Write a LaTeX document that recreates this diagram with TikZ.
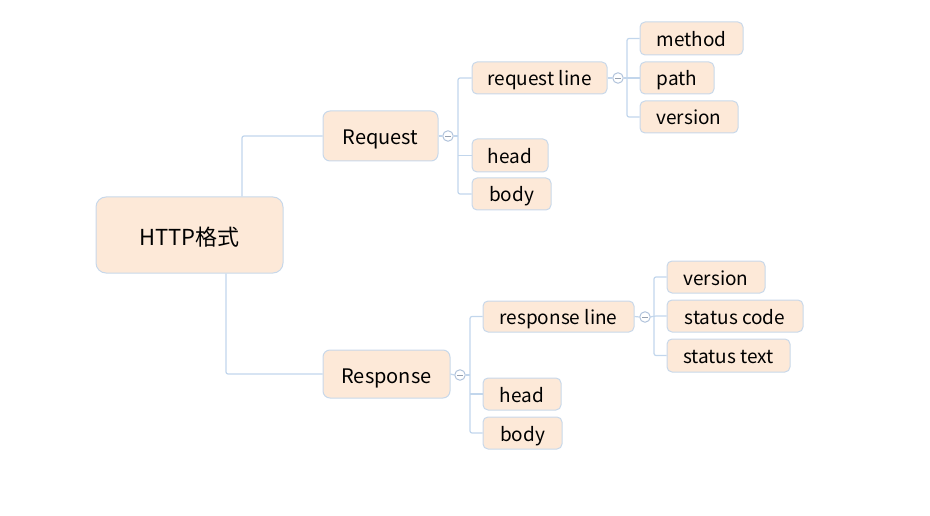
\documentclass[tikz,border=0pt]{standalone}
\usepackage{fontspec}
\setmainfont{Noto Sans CJK SC}
\definecolor{boxfill}{RGB}{253,233,216}
\definecolor{boxline}{RGB}{200,216,234}
\definecolor{conn}{RGB}{194,214,236}
\definecolor{circline}{RGB}{178,196,220}
\definecolor{minusc}{RGB}{150,160,175}
\tikzset{
  tbox/.style={draw=boxline, fill=boxfill, line width=1pt, rounded corners=5pt, inner sep=0pt, font=\fontsize{19}{22}\selectfont, text=black, text height=17pt, text depth=1pt},
  rootbox/.style={tbox, rounded corners=10pt, font=\fontsize{22}{26}\selectfont, text height=21pt, text depth=1pt},
  midbox/.style={tbox, rounded corners=7pt, font=\fontsize{20}{24}\selectfont, text height=19pt, text depth=1pt},
  link/.style={draw=conn, line width=1.2pt, rounded corners=2pt},
  collapse/.style={circle, draw=circline, fill=white, line width=1pt, minimum size=10.5pt, inner sep=0pt},
  minusbar/.style={draw=minusc, line width=0.9pt}
}
\begin{document}
\begin{tikzpicture}[x=1pt,y=-1pt]
\useasboundingbox (0,0) rectangle (930,516);
% nodes
\node[rootbox, minimum width=187pt, minimum height=76pt] (root) at (189.5,235) {HTTP格式};
\node[midbox, minimum width=115pt, minimum height=50pt] (req) at (380.5,136) {Request};
\node[midbox, minimum width=127pt, minimum height=48pt] (resp) at (386.5,374) {Response};

\node[tbox, minimum width=135pt, minimum height=32pt] (reqline) at (539.5,78) {request line};
\node[tbox, minimum width=76pt, minimum height=33pt] (head1) at (510,155.5) {head};
\node[tbox, minimum width=79pt, minimum height=32pt] (body1) at (511.5,194) {body};

\node[tbox, minimum width=103pt, minimum height=33pt] (method) at (691.5,38.5) {method};
\node[tbox, minimum width=74pt, minimum height=32pt] (path) at (677,78) {path};
\node[tbox, minimum width=98pt, minimum height=32pt] (ver1) at (689,117) {version};

\node[tbox, minimum width=151pt, minimum height=31pt] (respline) at (558.5,316.5) {response line};
\node[tbox, minimum width=78pt, minimum height=32pt] (head2) at (522,394) {head};
\node[tbox, minimum width=79pt, minimum height=32pt] (body2) at (522.5,433) {body};

\node[tbox, minimum width=98pt, minimum height=32pt] (ver2) at (716,277) {version};
\node[tbox, minimum width=136pt, minimum height=32pt] (scode) at (735,316) {status code};
\node[tbox, minimum width=123pt, minimum height=33pt] (stext) at (728.5,355.5) {status text};

% collapse circles
\node[collapse] (c1) at (448,136) {};
\node[collapse] (c2) at (618,78) {};
\node[collapse] (c3) at (460,375) {};
\node[collapse] (c4) at (645,317) {};
\foreach \c in {c1,c2,c3,c4}{
  \draw[minusbar] ([xshift=-2.6pt]\c.center) -- ([xshift=2.6pt]\c.center);
}

% bracket coordinates
\coordinate (r1) at (242,0);
\coordinate (r2) at (226,0);
\coordinate (b1) at (458,136);
\coordinate (b2) at (627,78);
\coordinate (b3) at (470,375);
\coordinate (b4) at (654,317);

% root connectors
\draw[link] (r1 |- root.north) |- (req.west);
\draw[link] (r2 |- root.south) |- (resp.west);

% Request children
\draw[link] (req.east) -- (c1.west);
\draw[link] (c1.east) -- (b1);
\draw[link] (reqline.west) -| (b1) |- (body1.west);
\draw[link] (b1 |- head1.west) -- (head1.west);

% request line children
\draw[link] (reqline.east) -- (c2.west);
\draw[link] (c2.east) -- (path.west);
\draw[link] (method.west) -| (b2) |- (ver1.west);

% Response children
\draw[link] (resp.east) -- (c3.west);
\draw[link] (c3.east) -- (b3);
\draw[link] (respline.west) -| (b3) |- (body2.west);
\draw[link] (b3 |- head2.west) -- (head2.west);

% response line children
\draw[link] (respline.east) -- (c4.west);
\draw[link] (c4.east) -- (b4 |- scode.west) -- (scode.west);
\draw[link] (ver2.west) -| (b4) |- (stext.west);
\end{tikzpicture}
\end{document}
